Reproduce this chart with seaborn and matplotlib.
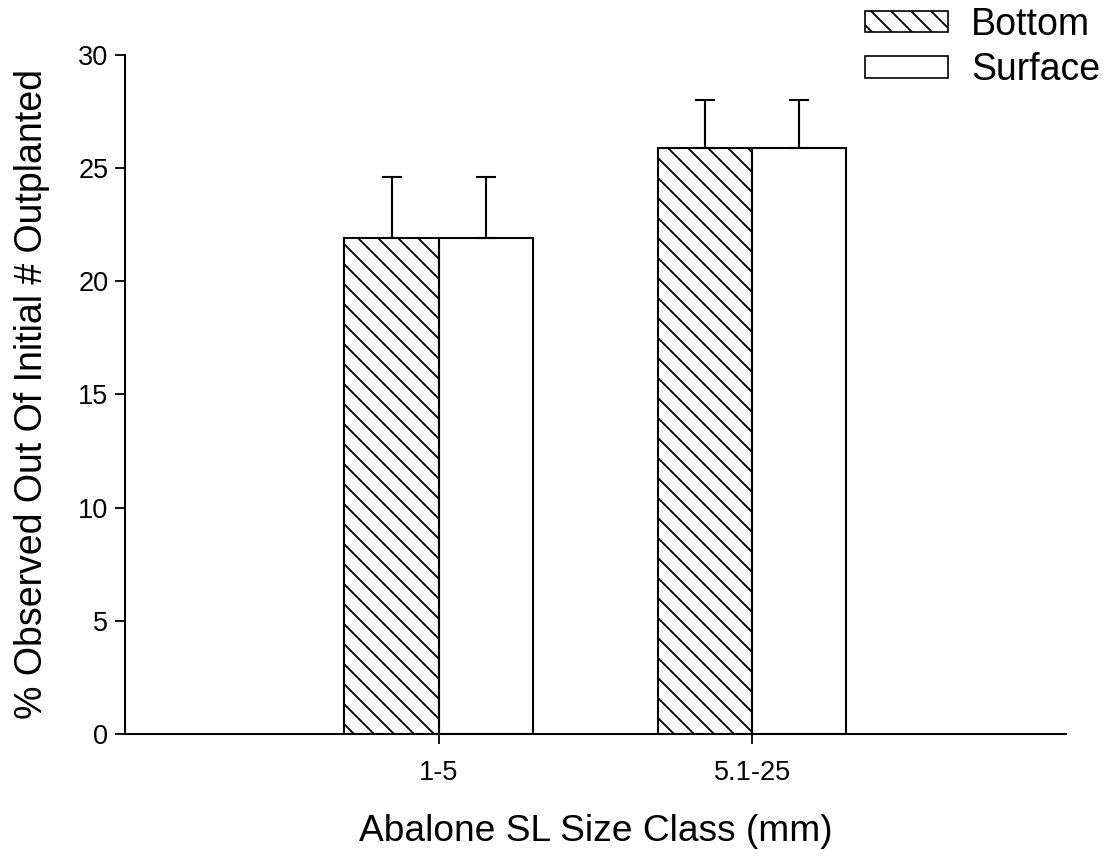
import matplotlib
matplotlib.use("Agg")
import matplotlib.pyplot as plt
import seaborn as sns
import pandas as pd
from matplotlib.patches import Patch

categories = ["1-5", "5.1-25"]
series = ["Bottom", "Surface"]
bottom_vals = [21.9, 25.9]
surface_vals = [21.9, 25.9]
bottom_err = [2.7, 2.1]
surface_err = [2.7, 2.1]
y_ticks = [0, 5, 10, 15, 20, 25, 30]

df = pd.DataFrame({
    "size": categories * 2,
    "loc": [series[0]] * 2 + [series[1]] * 2,
    "val": bottom_vals + surface_vals,
})

DPI = 120
k = 100.0 / DPI  # scale pt sizes so they match a 100-dpi layout

sns.set_style("ticks")
plt.rcParams["font.family"] = ["Liberation Sans", "DejaVu Sans"]
plt.rcParams["hatch.linewidth"] = 1.1
for key in ["text.color", "axes.labelcolor", "xtick.color", "ytick.color",
            "axes.edgecolor"]:
    plt.rcParams[key] = "black"

fig = plt.figure(figsize=(1112 / DPI, 859 / DPI), dpi=DPI)
ax = fig.add_axes([0.1124, 0.1455, 0.846, 0.7905])

sns.barplot(data=df, x="size", y="val", hue="loc", order=categories,
            hue_order=series, palette=["white", "white"], width=0.6,
            edgecolor="black", linewidth=1.5 * k, legend=False, ax=ax,
            errorbar=None, saturation=1)

errs = [bottom_err, surface_err]
bar_conts = list(ax.containers)
for ci, cont in enumerate(bar_conts):
    bars = [b for b in cont.patches if b is not None]
    for bar in bars:
        bar.set_facecolor("white")
        bar.set_edgecolor("black")
        if ci == 0:
            bar.set_hatch("\\\\")
    xs = [b.get_x() + b.get_width() / 2 for b in bars]
    ys = [b.get_height() for b in bars]
    ax.errorbar(xs, ys, yerr=[[0] * len(xs), errs[ci]], fmt="none",
                ecolor="black", elinewidth=1.5 * k, capsize=7.5 * k,
                capthick=1.5 * k, zorder=1)

ax.set_xlim(-1, 2)
ax.set_ylim(0, 30)
ax.set_yticks(y_ticks)
ax.tick_params(axis="both", direction="out", length=7 * k, width=1.3 * k,
               labelsize=19.5 * k, color="black", labelcolor="black")
ax.tick_params(axis="x", pad=12 * k)
ax.tick_params(axis="y", pad=5 * k)
for s in ["top", "right"]:
    ax.spines[s].set_visible(False)
for s in ["left", "bottom"]:
    ax.spines[s].set_linewidth(1.5 * k)
    ax.spines[s].set_color("black")

ax.set_xlabel("Abalone SL Size Class (mm)", fontsize=26.7 * k, labelpad=20 * k)
ax.set_ylabel("% Observed Out Of Initial # Outplanted", fontsize=27 * k)
ax.yaxis.set_label_coords(-0.0797, 0.5)

handles = [Patch(facecolor="white", edgecolor="black", hatch="\\\\", linewidth=1.2 * k),
           Patch(facecolor="white", edgecolor="black", linewidth=1.2 * k)]
fig.legend(handles, series, loc="upper right", bbox_to_anchor=(1.0097, 1.018),
           frameon=False, fontsize=27 * k, handlelength=2.2, handleheight=0.5,
           handletextpad=0.63, labelspacing=0.25, borderpad=0.1)

fig.savefig("out.png", dpi=DPI)
